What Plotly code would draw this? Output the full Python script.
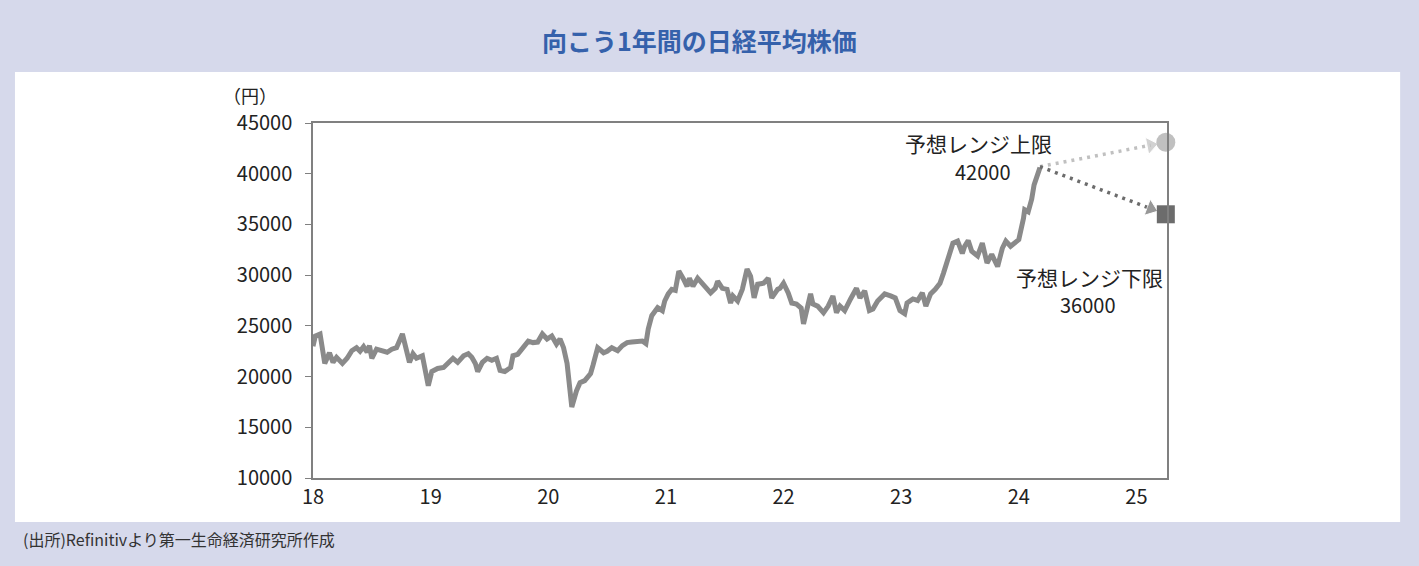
import plotly.graph_objects as go

# decimal years (18 = 2018.0) and Nikkei 225 closing level
years = [2018.00, 2018.02, 2018.06, 2018.10, 2018.14, 2018.17, 2018.20, 2018.25, 2018.29, 2018.33,
         2018.37, 2018.40, 2018.43, 2018.46, 2018.48, 2018.50, 2018.54, 2018.59, 2018.63, 2018.67,
         2018.71, 2018.76, 2018.78, 2018.82, 2018.85, 2018.88, 2018.93, 2018.95, 2018.98, 2019.01,
         2019.06, 2019.11, 2019.15, 2019.19, 2019.23, 2019.28, 2019.32, 2019.35, 2019.38, 2019.40,
         2019.44, 2019.48, 2019.52, 2019.56, 2019.59, 2019.63, 2019.68, 2019.70, 2019.74, 2019.79,
         2019.83, 2019.87, 2019.91, 2019.95, 2019.99, 2020.03, 2020.07, 2020.10, 2020.13, 2020.16,
         2020.19, 2020.20, 2020.24, 2020.27, 2020.31, 2020.36, 2020.38, 2020.42, 2020.47, 2020.50,
         2020.54, 2020.59, 2020.63, 2020.67, 2020.71, 2020.76, 2020.80, 2020.83, 2020.85, 2020.88,
         2020.91, 2020.93, 2020.97, 2020.99, 2021.02, 2021.05, 2021.08, 2021.11, 2021.15, 2021.18,
         2021.20, 2021.23, 2021.27, 2021.31, 2021.35, 2021.38, 2021.42, 2021.44, 2021.48, 2021.52,
         2021.55, 2021.57, 2021.61, 2021.65, 2021.69, 2021.72, 2021.75, 2021.78, 2021.83, 2021.87,
         2021.90, 2021.95, 2021.97, 2022.00, 2022.04, 2022.07, 2022.11, 2022.15, 2022.17, 2022.20,
         2022.23, 2022.25, 2022.29, 2022.34, 2022.38, 2022.42, 2022.45, 2022.48, 2022.52, 2022.57,
         2022.62, 2022.65, 2022.69, 2022.73, 2022.76, 2022.80, 2022.86, 2022.91, 2022.95, 2022.99,
         2023.03, 2023.05, 2023.10, 2023.14, 2023.18, 2023.21, 2023.25, 2023.29, 2023.33, 2023.36,
         2023.39, 2023.42, 2023.44, 2023.48, 2023.52, 2023.54, 2023.57, 2023.60, 2023.65, 2023.69,
         2023.73, 2023.77, 2023.82, 2023.86, 2023.89, 2023.93, 2023.97, 2024.00, 2024.04, 2024.05,
         2024.08, 2024.11, 2024.13, 2024.16, 2024.17, 2024.18]
nikkei = [23000, 24000, 24200, 21300, 22350, 21400, 21900, 21300, 21800, 22550,
          22850, 22500, 22950, 22400, 23050, 21800, 22700, 22550, 22400, 22700,
          22850, 24200, 23250, 21400, 22250, 21800, 22050, 20900, 19100, 20500,
          20800, 20900, 21300, 21800, 21400, 22050, 22250, 21900, 21300, 20500,
          21400, 21800, 21600, 21800, 20600, 20500, 20900, 22050, 22200, 22850,
          23500, 23350, 23400, 24200, 23700, 24000, 23200, 23700, 22850, 21300,
          18600, 17000, 18600, 19400, 19600, 20300, 21100, 22850, 22350, 22500,
          22850, 22550, 23050, 23350, 23400, 23500, 23500, 23250, 24700, 26000,
          26500, 26800, 26500, 27450, 28150, 28600, 28500, 30400, 29600, 28900,
          29700, 28900, 29700, 29100, 28600, 28250, 28700, 29400, 28700, 28600,
          27250, 27950, 27450, 28600, 30600, 29900, 27750, 29100, 29200, 29700,
          27750, 28600, 28700, 29200, 28250, 27250, 27150, 26750, 25200, 26500,
          28150, 27150, 26950, 26300, 26950, 27950, 26300, 26950, 26500, 27650,
          28700, 27750, 28450, 26500, 26650, 27450, 28150, 27950, 27750, 26500,
          26200, 27250, 27650, 27500, 28250, 26950, 28150, 28600, 29200, 30200,
          31400, 32350, 33150, 33350, 32150, 32850, 33400, 32350, 31900, 33150,
          31200, 32050, 30850, 32650, 33350, 32850, 33150, 33500, 35600, 36450,
          36250, 37500, 38900, 39850, 40400, 40600]

# forecast range for the coming year
fc_start_year = 2024.18
fc_start = 40700
fc_end_year = 2025.25
fc_upper = 43100
fc_lower = 36000
upper_label = "予想レンジ上限"
lower_label = "予想レンジ下限"
upper_text = "42000"
lower_text = "36000"

year_ticks = [2018, 2019, 2020, 2021, 2022, 2023, 2024, 2025]
year_text = ["18", "19", "20", "21", "22", "23", "24", "25"]

FONT = "Noto Sans CJK JP"
LINE = "#8a8a8a"
LIGHT = "#c0c0c0"
DARK = "#6c6c6c"
TXT = "#222222"

fig = go.Figure()
fig.add_trace(go.Scatter(x=years, y=nikkei, mode="lines",
                         line=dict(color=LINE, width=5), showlegend=False))

# dotted arrows, arrowhead a bit short of the end marker
frac = 0.88
for end, col in [(fc_upper, LIGHT), (fc_lower, DARK)]:
    ax = fc_start_year + (fc_end_year - fc_start_year) * frac
    ay = fc_start + (end - fc_start) * frac
    fig.add_trace(go.Scatter(x=[fc_start_year, ax], y=[fc_start, ay], mode="lines+markers",
                             line=dict(color=col, width=3.5, dash="3px,5px"),
                             marker=dict(symbol="triangle-up", size=[0, 15], color=col,
                                         angleref="previous"),
                             cliponaxis=False, showlegend=False))

fig.add_trace(go.Scatter(x=[fc_end_year], y=[fc_upper], mode="markers",
                         marker=dict(symbol="circle", size=19, color=LIGHT),
                         cliponaxis=False, showlegend=False))
fig.add_trace(go.Scatter(x=[fc_end_year], y=[fc_lower], mode="markers",
                         marker=dict(symbol="square", size=18, color=DARK),
                         cliponaxis=False, showlegend=False))


def note(x, y, text, size, color=TXT, xanchor="center"):
    fig.add_annotation(x=x, y=y, xref="paper", yref="paper", text=text, showarrow=False,
                       xanchor=xanchor, yanchor="middle",
                       font=dict(family=FONT, size=size, color=color))


note(0.779, 0.944, upper_label, 21)
note(0.785, 0.862, upper_text, 20)
note(0.909, 0.566, lower_label, 21)
note(0.908, 0.490, lower_text, 20)

# title, unit, source
note(0.452, 1.234, "<b>向こう1年間の日経平均株価</b>", 25, color="#3561ab")
note(-0.074, 1.079, "（円）", 18)
note(-0.342, -0.172, "(出所)Refinitivより第一生命経済研究所作成", 16, color="#333333", xanchor="left")

# white panel behind the chart
fig.add_shape(type="rect", xref="paper", yref="paper", x0=-0.349, x1=1.273, y0=-0.124, y1=1.144,
              fillcolor="white", line=dict(width=0), layer="below")

fig.update_xaxes(range=[2018, 2025.26], tickvals=year_ticks, ticktext=year_text,
                 showgrid=False, zeroline=False, showline=True, linecolor="#808080",
                 linewidth=1.5, mirror=True, ticks="", tickfont=dict(size=20, color=TXT))
fig.update_yaxes(range=[10000, 45000], dtick=5000, tickformat="d", ticksuffix="\u00a0\u00a0",
                 showgrid=False, zeroline=False, showline=True, linecolor="#808080",
                 linewidth=1.5, mirror=True, ticks="outside", ticklen=6, tickcolor="#808080",
                 tickfont=dict(size=20, color=TXT))

fig.update_layout(width=1419, height=566,
                  margin=dict(l=313, r=252, t=123, b=88),
                  paper_bgcolor="#d6d9eb", plot_bgcolor="white",
                  font=dict(family=FONT, color=TXT))

fig.write_html("out.html", config={"displayModeBar": False},
               post_script="document.body.style.margin='0';")
